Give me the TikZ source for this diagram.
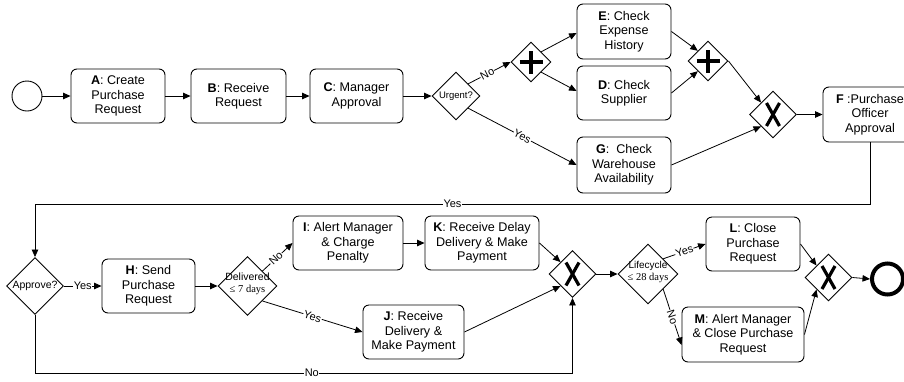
\documentclass[tikz,border=0pt]{standalone}
\usepackage{fontspec}
\setmainfont{Liberation Sans}
\newfontfamily\serifnum{Liberation Serif}
\usetikzlibrary{shapes.geometric,arrows.meta}
\tikzset{
  task/.style={draw, rounded corners=6pt, line width=0.9pt, align=center, inner sep=1pt,
    font=\fontsize{12.6}{14.5}\selectfont},
  gw/.style={draw, diamond, line width=0.9pt, inner sep=0pt, minimum width=#1, minimum height=#1, fill=white},
  flow/.style={-{Triangle[length=7.5pt,width=6.5pt]}, line width=0.8pt},
  lbl/.style={fill=white, inner sep=0.6pt, font=\fontsize{11}{12}\selectfont},
  dtext/.style={inner sep=0pt, align=center, font=\fontsize{10.5}{11.5}\selectfont},
  plusmark/.style={line width=4.8pt},
  xmark/.style={line width=3.2pt}
}
\begin{document}
\begin{tikzpicture}[x=1pt,y=-1pt]
\useasboundingbox (0,0) rectangle (904,381);
\clip (0,0) rectangle (904,381);
% row 1
\node[circle, draw, line width=0.9pt, minimum size=30pt, inner sep=0pt] (start) at (27,96) {};
\node[task, minimum width=94pt, minimum height=54pt] (A) at (118,96) {\textbf{A}: Create\\Purchase\\Request};
\node[task, minimum width=95pt, minimum height=54pt] (B) at (238.5,96) {\textbf{B}: Receive\\Request};
\node[task, minimum width=93pt, minimum height=54pt] (C) at (356.5,96) {\textbf{C}: Manager\\Approval};
\node[gw=48pt] (urg) at (456,96) {};
\node[dtext, font=\fontsize{9.5}{11}\selectfont] (urgt) at (urg.center) {Urgent?};
\node[gw=40pt] (p1) at (531,62) {};
\node[task, minimum width=94pt, minimum height=55pt] (E) at (624,31.5) {\textbf{E}: Check\\Expense\\History};
\node[task, minimum width=94pt, minimum height=54pt] (D) at (624,93) {\textbf{D}: Check\\Supplier};
\node[task, minimum width=94pt, minimum height=56pt] (G) at (624,165) {\textbf{G}:~ Check\\Warehouse\\Availability};
\node[gw=40pt] (p2) at (708,61) {};
\node[gw=47pt] (x1) at (773,114.5) {};
\node[task, minimum width=94pt, minimum height=55pt] (F) at (870,114.5) {\textbf{F} :Purchase\\Officer\\Approval};
% row 2
\node[gw=57pt] (app) at (35,286) {};
\node[dtext, font=\fontsize{10.5}{11.5}\selectfont] (appt) at (app.center) {Approve?};
\node[task, minimum width=93pt, minimum height=54pt] (H) at (148.5,286) {\textbf{H}: Send\\Purchase\\Request};
\node[gw=59pt] (del) at (247.5,286) {};
\node[dtext] (delt) at ([yshift=2pt]del.center) {Delivered\\{\serifnum ≤ 7 days}};
\node[task, minimum width=110pt, minimum height=54pt] (I) at (348,243) {\textbf{I}: Alert Manager\\\& Charge\\Penalty};
\node[task, minimum width=114pt, minimum height=54pt] (K) at (482,243) {\textbf{K}: Receive Delay\\Delivery \& Make\\Payment};
\node[task, minimum width=101pt, minimum height=54pt] (J) at (413.5,332) {\textbf{J}: Receive\\Delivery \&\\Make Payment};
\node[gw=47pt] (x2) at (572.5,274) {};
\node[gw=60pt] (life) at (648,274) {};
\node[dtext, font=\fontsize{10}{11.5}\selectfont] (lifet) at ([yshift=2pt]life.center) {Lifecycle\\{\serifnum\fontsize{10.5}{11.5}\selectfont ≤ 28 days}};
\node[task, minimum width=94pt, minimum height=54pt] (L) at (753,244) {\textbf{L}: Close\\Purchase\\Request};
\node[task, minimum width=122pt, minimum height=55pt] (M) at (743,334.5) {\textbf{M}: Alert Manager\\\& Close Purchase\\Request};
\node[gw=47pt] (x3) at (828.5,277.5) {};
\node[circle, draw, line width=4pt, minimum size=31pt, inner sep=0pt] (end) at (887.5,279) {};
% gateway markers
\foreach \g in {p1,p2}{
  \draw[plusmark] ([xshift=-11.5pt]\g.center) -- ([xshift=11.5pt]\g.center);
  \draw[plusmark] ([yshift=-11.5pt]\g.center) -- ([yshift=11.5pt]\g.center);
}
\foreach \g in {x1,x2,x3}{
  \draw[xmark] ([xshift=-6.5pt,yshift=-11.5pt]\g.center) -- ([xshift=6.5pt,yshift=11.5pt]\g.center);
  \draw[xmark] ([xshift=-6.5pt,yshift=11.5pt]\g.center) -- ([xshift=6.5pt,yshift=-11.5pt]\g.center);
}
% connectors row 1
\draw[flow] (start) -- (A);
\draw[flow] (A) -- (B);
\draw[flow] (B) -- (C);
\draw[flow] (C) -- (urg);
\draw[flow] (urg.north east) -- node[lbl, sloped, pos=0.45] {No} (p1.west);
\draw[flow] (urg.south east) -- node[lbl, sloped, pos=0.5] {Yes} (G.west);
\draw[flow] (p1.north east) -- ([yshift=-1.5pt]E.west);
\draw[flow] (p1.south east) -- ([yshift=2pt]D.west);
\draw[flow] (E.east) -- (p2.north west);
\draw[flow] (D.east) -- (p2.south west);
\draw[flow] (p2.east) -- (x1.north west);
\draw[flow] (G.east) -- (x1.south west);
\draw[flow] (x1.east) -- (F.west);
\coordinate (ty) at (35,204);
\draw[flow] (F.south) |- node[lbl, pos=0.75] {Yes} (ty) -- (app.north);
% connectors row 2
\draw[flow] (app.east) -- node[lbl] {Yes} (H.west);
\coordinate (bn) at (0,373);
\draw[flow] (app.south) -- (app.south |- bn) -- node[lbl, pos=0.515] {No} (x2.south |- bn) -- (x2.south);
\draw[flow] (H.east) -- (del.west);
\draw[flow] (del.north east) -- node[lbl, sloped, pos=0.45] {No} (I.west);
\draw[flow] (del.south east) -- node[lbl, sloped, pos=0.5] {Yes} (J.west);
\draw[flow] (I.east) -- (K.west);
\draw[flow] (K.east) -- (x2.north west);
\draw[flow] (J.east) -- (x2.south west);
\draw[flow] (x2.east) -- (life.west);
\draw[flow] (life.north east) -- node[lbl, sloped, pos=0.5] {Yes} (L.west);
\draw[flow] (life.south east) -- node[lbl, sloped, pos=0.5] {No} ([yshift=-10.5pt]M.west);
\draw[flow] (L.east) -- (x3.north west);
\draw[flow] (M.east) -- (x3.south west);
\draw[flow] (x3.east) -- (end.west);
\end{tikzpicture}
\end{document}
